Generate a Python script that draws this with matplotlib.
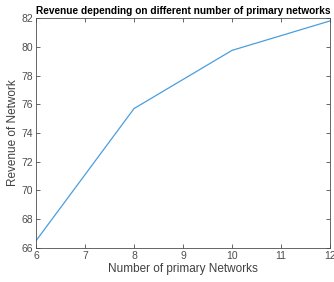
import matplotlib
matplotlib.use("Agg")
import matplotlib.pyplot as plt

networks = [6, 8, 10, 12]
revenue = [66.5, 75.7, 79.75, 81.8]

plt.rcParams['font.family'] = ['Liberation Sans', 'DejaVu Sans']

fig = plt.figure(figsize=(3.34, 2.82), dpi=100)
ax = fig.add_axes([0.108, 0.121, 0.880, 0.815])
ax.plot(networks, revenue, color='#4a9ede', linewidth=0.9)
ax.set_xlim(6, 12)
ax.set_ylim(66, 82)
ax.set_xticks(range(6, 13))
ax.set_yticks(range(66, 83, 2))
ax.tick_params(direction='in', length=3, width=0.6, labelsize=7.5,
               colors='#4d4d4d', top=True, right=True, pad=2)
for s in ax.spines.values():
    s.set_linewidth(0.6)
    s.set_color('#4d4d4d')
ax.set_xlabel("Number of primary Networks", fontsize=8.5, color='#404040', labelpad=2)
ax.set_ylabel("Revenue of Network", fontsize=8.5, color='#404040', labelpad=2)
ax.set_title("Revenue depending on different number of primary networks",
             fontsize=7.3, fontweight='bold', pad=3)
fig.savefig("out.png", dpi=100)
